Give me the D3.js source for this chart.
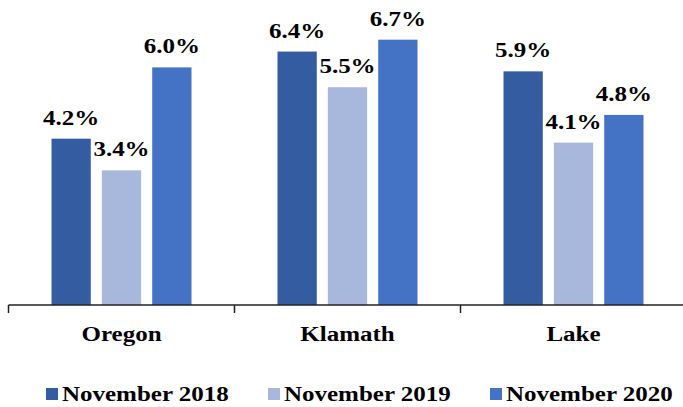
<!DOCTYPE html>
<html>
<head>
<meta charset="utf-8">
<script src="https://cdn.jsdelivr.net/npm/d3@7"></script>
<style>
  body { margin: 0; background: #fff; }
  svg text { font-family: "Liberation Serif", "Times New Roman", serif; font-weight: bold; fill: #000; }
</style>
</head>
<body>
<svg id="chart" width="683" height="407"></svg>
<script>
var categories = ["Oregon", "Klamath", "Lake"];
var seriesNames = ["November 2018", "November 2019", "November 2020"];
var seriesColors = ["#345CA0", "#A8B7DC", "#4472C4"];
var values2018 = [4.2, 6.4, 5.9];
var values2019 = [3.4, 5.5, 4.1];
var values2020 = [6.0, 6.7, 4.8];

var series = [values2018, values2019, values2020];

var svg = d3.select("#chart");
var baseY = 305;
var stretch = 1.25; // text in the picture is wider than it is tall

// text helper: a stretched label at (x, y)
function addText(parent, x, yy, str, anchor) {
  return parent.append("g")
    .attr("transform", "translate(" + x + "," + yy + ") scale(" + stretch + ",1)")
    .append("text")
    .attr("text-anchor", anchor || "middle")
    .style("font-size", "20px")
    .text(str);
}

var x0 = d3.scaleBand()
  .domain(categories)
  .range([8.5, 686.5])
  .paddingInner(0)
  .paddingOuter(0);

var x1 = d3.scaleBand()
  .domain(seriesNames)
  .range([43, 183])
  .paddingInner(0.22)
  .paddingOuter(0);

var y = d3.scaleLinear()
  .domain([0, 7])
  .range([baseY, baseY - 7 * 39.6]);

var groups = svg.selectAll("g.cat")
  .data(categories)
  .enter()
  .append("g")
  .attr("class", "cat")
  .attr("transform", function(d) { return "translate(" + x0(d) + ",0)"; });

groups.each(function(cat, ci) {
  var g = d3.select(this);
  seriesNames.forEach(function(s, si) {
    var v = series[si][ci];
    g.append("rect")
      .attr("x", x1(s))
      .attr("y", y(v))
      .attr("width", x1.bandwidth())
      .attr("height", baseY - y(v))
      .attr("fill", seriesColors[si]);
    addText(g, x1(s) + x1.bandwidth() / 2, y(v) - 14, v.toFixed(1) + "%");
  });
});

// axis
var axis = d3.axisBottom(x0).tickSize(0).tickFormat("");
var axG = svg.append("g")
  .attr("transform", "translate(0," + baseY + ")")
  .call(axis);
axG.select(".domain").attr("stroke", "#222").attr("stroke-width", 1.5).attr("d", "M8.5,0H687");
// category boundaries
axG.selectAll("line.sep")
  .data(x0.domain())
  .enter()
  .append("line")
  .attr("class", "sep")
  .attr("x1", function(d) { return x0(d); })
  .attr("x2", function(d) { return x0(d); })
  .attr("y1", 0)
  .attr("y2", 8)
  .attr("stroke", "#222")
  .attr("stroke-width", 1.5);

categories.forEach(function(c) {
  addText(svg, x0(c) + x0.bandwidth() / 2, 341, c);
});

// legend
var legendX = [46, 268, 490];
seriesNames.forEach(function(s, i) {
  svg.append("rect")
    .attr("x", legendX[i])
    .attr("y", 388)
    .attr("width", 12)
    .attr("height", 12)
    .attr("fill", seriesColors[i]);
  addText(svg, legendX[i] + 16, 401, s, "start");
});
</script>
</body>
</html>
